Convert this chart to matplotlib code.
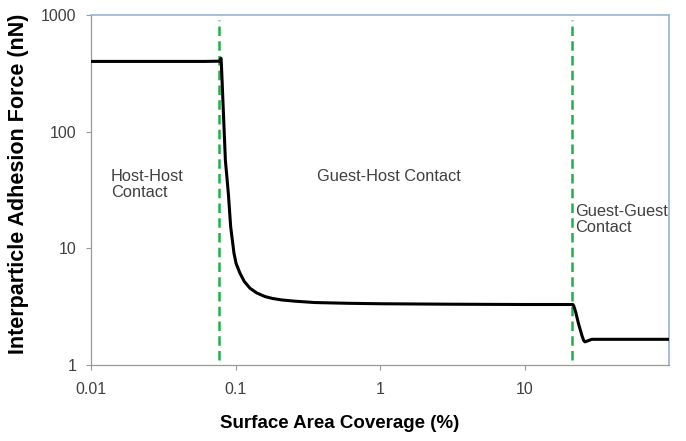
import matplotlib
matplotlib.use("Agg")
import matplotlib.pyplot as plt
from matplotlib.ticker import FixedLocator, FixedFormatter, NullLocator

plt.rcParams['font.family'] = ['Liberation Sans', 'DejaVu Sans']

# Adhesion force vs. guest surface coverage
coverage = [0.01, 0.06, 0.0775, 0.0794, 0.0800, 0.0851, 0.0873, 0.0892, 0.0926,
            0.0976, 0.101, 0.1074, 0.115, 0.126, 0.14, 0.16, 0.18, 0.209, 0.26,
            0.355, 0.6, 1.0, 3.0, 10.0, 21.6, 21.9, 22.6, 23.6, 25.0, 25.7,
            26.2, 27.0, 29.2, 40.0, 100.0]
force = [400, 400, 402, 425, 360, 57, 40, 29.6, 15.3,
         9.08, 7.4, 6.12, 5.2, 4.55, 4.15, 3.86, 3.72, 3.61, 3.52,
         3.43, 3.38, 3.35, 3.32, 3.3, 3.3, 3.22, 2.85, 2.28, 1.78, 1.62,
         1.58, 1.6, 1.66, 1.66, 1.66]

# Regime boundaries (% coverage)
boundaries = [0.0763, 21.2]

x_ticks = [0.01, 0.1, 1, 10]
x_tick_labels = ['0.01', '0.1', '1', '10']
y_ticks = [1, 10, 100, 1000]
y_tick_labels = ['1', '10', '100', '1000']

regions = [
    ("Host-Host\nContact", 0.0137, 48),
    ("Guest-Host Contact", 0.365, 48),
    ("Guest-Guest\nContact", 22.3, 24),
]

text_color = '#404040'

fig = plt.figure(figsize=(6.86, 4.41), dpi=100)
ax = fig.add_axes([91 / 686, 1 - 365 / 441, (669 - 91) / 686, (365 - 15) / 441])
ax.set_xscale('log')
ax.set_yscale('log')
ax.set_xlim(0.01, 100)
ax.set_ylim(1, 1000)

for b in boundaries:
    ax.axvline(b, ymin=0.015, ymax=0.985, color='#1fb04a', lw=1.8,
               linestyle=(0, (3.8, 2.1)), zorder=2)

ax.plot(coverage, force, color='black', lw=2.2, solid_joinstyle='round',
        solid_capstyle='butt', zorder=3)

for label, x, y in regions:
    ax.text(x, y, label, fontsize=11.8, color=text_color, ha='left', va='top',
            linespacing=1.1)

ax.xaxis.set_major_locator(FixedLocator(x_ticks))
ax.xaxis.set_major_formatter(FixedFormatter(x_tick_labels))
ax.xaxis.set_minor_locator(NullLocator())
ax.yaxis.set_major_locator(FixedLocator(y_ticks))
ax.yaxis.set_major_formatter(FixedFormatter(y_tick_labels))
ax.yaxis.set_minor_locator(NullLocator())

ax.tick_params(axis='both', which='major', direction='out', length=3.6, width=0.8,
               color='#999999', labelsize=11.5, labelcolor=text_color)
ax.tick_params(axis='x', pad=8.5)
ax.tick_params(axis='y', pad=7)

for side in ('left', 'bottom'):
    ax.spines[side].set_color('#9a9a9a')
    ax.spines[side].set_linewidth(0.9)
for side in ('top', 'right'):
    ax.spines[side].set_color('#95b3d7')
    ax.spines[side].set_linewidth(1.2)

fig.text(0.495, 1 - 424 / 441, 'Surface Area Coverage (%)', fontsize=13.5,
         fontweight='bold', ha='center', va='center', color='black')
fig.text(19 / 686, 1 - 184 / 441, 'Interparticle Adhesion Force (nN)', fontsize=15.5,
         fontweight='bold', ha='center', va='center', rotation=90, color='black')

fig.savefig('out.png', dpi=100)
